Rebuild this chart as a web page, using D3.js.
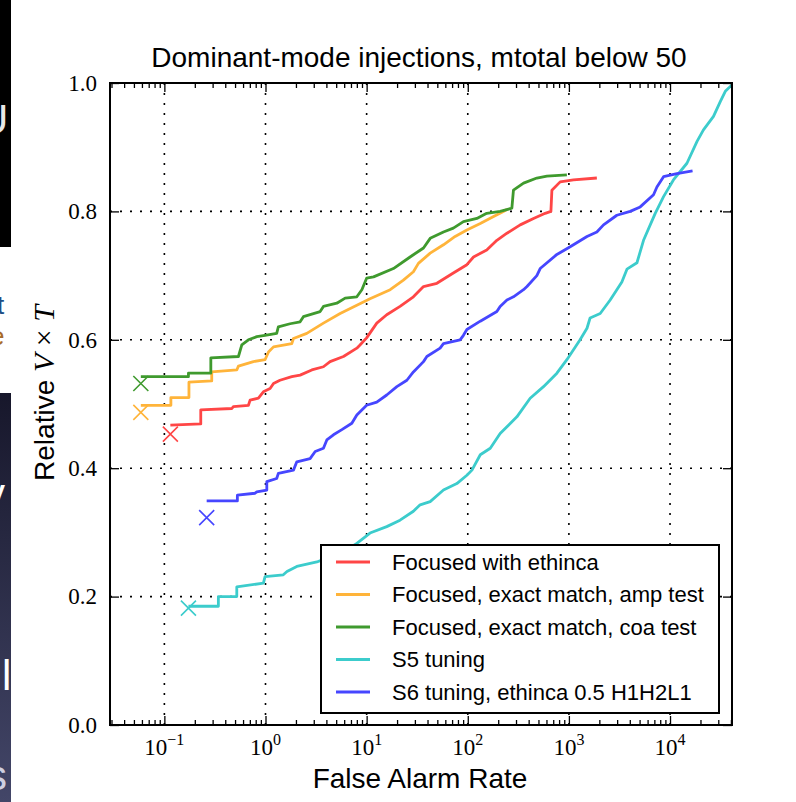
<!DOCTYPE html>
<html>
<head>
<meta charset="utf-8">
<script src="https://cdnjs.cloudflare.com/ajax/libs/d3/7.8.5/d3.min.js"></script>
<style>
body { margin: 0; background: #ffffff; }
</style>
</head>
<body>
<div id="chart"></div>
<script>
// series as [false alarm rate, relative VT]
var seriesNames = ["Focused with ethinca", "Focused, exact match, amp test",
  "Focused, exact match, coa test", "S5 tuning", "S6 tuning, ethinca 0.5 H1H2L1"];
var seriesColors = ["#ff4646", "#ffb43a", "#3f9a2e", "#3ccccc", "#4646ff"];

var redCurve = [[0.1146,0.467],[0.229,0.469],[0.229,0.491],[0.465,0.493],[0.481,0.496],[0.678,0.498],
  [0.704,0.506],[0.851,0.509],[0.953,0.519],[1.11,0.524],[1.2,0.532],[1.39,0.537],[1.82,0.5425],
  [2.2,0.545],[2.87,0.553],[3.74,0.558],[4.35,0.566],[5.9,0.574],[8.0,0.587],[8.6,0.592],[10.0,0.603],
  [12.6,0.626],[15.8,0.639],[21.4,0.652],[29,0.667],[36.5,0.683],[49.5,0.688],[72,0.704],[98,0.717],
  [114,0.729],[154,0.740],[194,0.755],[244,0.766],[330,0.779],[447,0.789],[583,0.797],[664,0.80],
  [679,0.833],[820,0.846],[1110,0.849],[1890,0.852]];

var orangeCurve = [[0.0585,0.498],[0.116,0.498],[0.116,0.510],[0.175,0.510],[0.175,0.534],[0.294,0.536],
  [0.294,0.550],[0.52,0.553],[0.54,0.559],[0.76,0.566],[0.99,0.569],[1.07,0.581],[1.2,0.589],
  [1.82,0.594],[1.89,0.602],[2.56,0.610],[3.74,0.626],[5.47,0.641],[8.0,0.654],[10.8,0.664],
  [17.1,0.678],[23.1,0.693],[29,0.706],[32.5,0.719],[42.5,0.735],[57.5,0.748],[75,0.761],[98,0.771],
  [133,0.781],[180,0.792],[225,0.80],[244,0.803]];

var greenCurve = [[0.0585,0.5425],[0.173,0.5425],[0.173,0.548],[0.288,0.548],[0.288,0.572],[0.54,0.574],
  [0.583,0.592],[0.678,0.600],[0.82,0.605],[0.99,0.607],[1.29,0.610],[1.34,0.620],[1.75,0.625],
  [2.2,0.628],[2.37,0.636],[3.47,0.644],[3.74,0.652],[5.07,0.657],[6.13,0.665],[8.0,0.667],
  [8.97,0.678],[10.0,0.696],[11.7,0.698],[18.4,0.711],[26.9,0.729],[36.5,0.743],[42.5,0.758],
  [57.5,0.768],[72,0.774],[90.6,0.784],[123,0.789],[154,0.797],[209,0.80],[273,0.805],[283,0.833],
  [356,0.844],[482,0.852],[606,0.855],[955,0.857]];

var cyanCurve = [[0.173,0.185],[0.342,0.185],[0.342,0.200],[0.52,0.200],[0.52,0.215],[0.953,0.221],
  [0.99,0.231],[1.5,0.234],[1.63,0.239],[2.04,0.247],[3.22,0.254],[4.04,0.260],[6.37,0.273],[8.0,0.283],
  [10.8,0.299],[15.8,0.309],[21.4,0.319],[29,0.333],[33.8,0.343],[42.5,0.348],[57.5,0.366],[78,0.376],
  [98,0.389],[110,0.397],[133,0.421],[167,0.431],[209,0.454],[306,0.480],[414,0.509],[561,0.527],
  [761,0.548],[955,0.569],[1290,0.600],[1510,0.618],[1620,0.634],[2040,0.641],[2560,0.662],
  [3340,0.690],[3750,0.710],[4710,0.720],[5470,0.755],[7140,0.797],[8630,0.823],[10800,0.849],
  [14700,0.875],[18500,0.909],[21400,0.927],[26900,0.948],[31400,0.971],[35200,0.987],[40900,0.997]];

var blueCurve = [[0.262,0.349],[0.527,0.349],[0.527,0.358],[0.789,0.361],[0.82,0.363],[1.03,0.366],
  [1.03,0.379],[1.29,0.384],[1.34,0.392],[1.89,0.397],[2.04,0.410],[2.76,0.415],[3.1,0.426],
  [3.74,0.431],[4.04,0.444],[4.7,0.452],[5.69,0.460],[7.14,0.470],[8.0,0.483],[10.0,0.498],
  [12.6,0.503],[15.8,0.514],[19.9,0.527],[25,0.537],[29,0.550],[36.5,0.566],[39.4,0.574],
  [53.3,0.587],[57.5,0.594],[84,0.600],[90.6,0.607],[98,0.616],[133,0.629],[194,0.644],[209,0.652],
  [244,0.662],[283,0.667],[356,0.678],[385,0.683],[482,0.700],[520,0.711],[761,0.733],[1030,0.745],
  [1510,0.761],[1890,0.768],[2200,0.779],[2980,0.794],[4040,0.80],[5070,0.807],[6870,0.826],
  [7420,0.838],[8630,0.854],[11700,0.859],[16700,0.863]];

// the X marker at the start of each curve
var startMarkers = [[0.1146,0.453],[0.0585,0.487],[0.0585,0.532],[0.173,0.182],[0.262,0.323]];

var xMajor = [0.1, 1, 10, 100, 1000, 10000];
var xMajorExp = ["\u22121", "0", "1", "2", "3", "4"];
var yTicks = [0, 0.2, 0.4, 0.6, 0.8, 1.0];

var curves = [redCurve, orangeCurve, greenCurve, cyanCurve, blueCurve];

function drawChart() {
  var svg = d3.select("#chart").append("svg").attr("width", 796).attr("height", 802);
  svg.append("rect").attr("width", 796).attr("height", 802).attr("fill", "#ffffff");

  drawSlideEdge(svg);

  var left = 110, right = 732, top = 83, bottom = 725;
  var x = d3.scaleLog().domain([0.029, 41000]).range([left, right]);
  var y = d3.scaleLinear().domain([0, 1]).range([bottom, top]);

  var xMinor = [];
  for (var e = -2; e <= 4; e++) {
    for (var m = 2; m <= 9; m++) {
      var v = m * Math.pow(10, e);
      if (v > 0.029 && v < 41000) xMinor.push(v);
    }
  }

  // dotted grid
  var grid = svg.append("g").attr("stroke", "#000").attr("stroke-width", 1.6)
    .attr("stroke-dasharray", "2,8");
  xMajor.forEach(function (v) {
    grid.append("line").attr("x1", x(v)).attr("x2", x(v)).attr("y1", bottom).attr("y2", top);
  });
  [0.2, 0.4, 0.6, 0.8].forEach(function (v) {
    grid.append("line").attr("x1", left).attr("x2", right).attr("y1", y(v)).attr("y2", y(v));
  });

  // curves
  svg.append("clipPath").attr("id", "plotclip").append("rect")
    .attr("x", left).attr("y", top).attr("width", right - left).attr("height", bottom - top);
  var line = d3.line().x(function (d) { return x(d[0]); }).y(function (d) { return y(d[1]); });
  var plot = svg.append("g").attr("clip-path", "url(#plotclip)");
  curves.forEach(function (c, i) {
    plot.append("path").attr("d", line(c)).attr("fill", "none")
      .attr("stroke", seriesColors[i]).attr("stroke-width", 2.8).attr("stroke-linejoin", "round");
  });
  startMarkers.forEach(function (p, i) {
    var cx = x(p[0]), cy = y(p[1]), r = 7.5;
    svg.append("path")
      .attr("d", "M" + (cx - r) + "," + (cy - r) + "L" + (cx + r) + "," + (cy + r) +
        "M" + (cx - r) + "," + (cy + r) + "L" + (cx + r) + "," + (cy - r))
      .attr("stroke", seriesColors[i]).attr("stroke-width", 1.6);
  });

  // ticks, pointing inward on all four sides
  svg.append("g").attr("transform", "translate(0," + bottom + ")")
    .call(d3.axisBottom(x).tickValues(xMajor).tickSizeInner(-9).tickSizeOuter(0).tickFormat(""));
  svg.append("g").attr("transform", "translate(0," + bottom + ")")
    .call(d3.axisBottom(x).tickValues(xMinor).tickSizeInner(-5).tickSizeOuter(0).tickFormat(""));
  svg.append("g").attr("transform", "translate(0," + top + ")")
    .call(d3.axisTop(x).tickValues(xMajor).tickSizeInner(-9).tickSizeOuter(0).tickFormat(""));
  svg.append("g").attr("transform", "translate(0," + top + ")")
    .call(d3.axisTop(x).tickValues(xMinor).tickSizeInner(-5).tickSizeOuter(0).tickFormat(""));
  var yl = svg.append("g").attr("transform", "translate(" + left + ",0)")
    .call(d3.axisLeft(y).tickValues(yTicks).tickSizeInner(-9).tickSizeOuter(0).tickPadding(13)
      .tickFormat(d3.format(".1f")));
  yl.selectAll("text").attr("font-family", "Liberation Serif, serif").attr("font-size", 23)
    .attr("fill", "#000");
  svg.append("g").attr("transform", "translate(" + right + ",0)")
    .call(d3.axisRight(y).tickValues(yTicks).tickSizeInner(-9).tickSizeOuter(0).tickFormat(""));
  svg.selectAll(".domain").remove();
  svg.selectAll(".tick line").attr("stroke", "#000").attr("stroke-width", 1.3);

  // frame
  svg.append("rect").attr("x", left).attr("y", top).attr("width", right - left)
    .attr("height", bottom - top).attr("fill", "none").attr("stroke", "#000").attr("stroke-width", 2);

  // x tick labels as 10^n
  xMajor.forEach(function (v, i) {
    var t = svg.append("text").attr("x", x(v)).attr("y", 755).attr("text-anchor", "middle")
      .attr("font-family", "Liberation Serif, serif").attr("font-size", 23).attr("fill", "#000");
    t.append("tspan").text("10");
    t.append("tspan").attr("dy", -10).attr("font-size", 16).text(xMajorExp[i]);
  });

  // titles
  svg.append("text").attr("x", 419).attr("y", 67).attr("text-anchor", "middle")
    .attr("font-family", "Liberation Sans, Arial, sans-serif").attr("font-size", 28)
    .text("Dominant-mode injections, mtotal below 50");
  svg.append("text").attr("x", 420).attr("y", 788).attr("text-anchor", "middle")
    .attr("font-family", "Liberation Sans, Arial, sans-serif").attr("font-size", 28)
    .text("False Alarm Rate");
  var ylab = svg.append("text").attr("transform", "translate(54,393) rotate(-90)")
    .attr("text-anchor", "middle").attr("font-family", "Liberation Sans, Arial, sans-serif")
    .attr("font-size", 28);
  ylab.append("tspan").text("Relative ");
  ylab.append("tspan").attr("font-family", "Liberation Serif, serif").attr("font-style", "italic")
    .attr("font-size", 30).text("V");
  ylab.append("tspan").attr("font-family", "Liberation Serif, serif").attr("font-size", 30).text(" \u00d7 ");
  ylab.append("tspan").attr("font-family", "Liberation Serif, serif").attr("font-style", "italic")
    .attr("font-size", 30).text("T");

  // legend
  var lg = svg.append("g");
  lg.append("rect").attr("x", 321).attr("y", 545).attr("width", 398).attr("height", 168)
    .attr("fill", "#fff").attr("stroke", "#000").attr("stroke-width", 2);
  seriesNames.forEach(function (name, i) {
    var ly = 562 + i * 32.5;
    lg.append("line").attr("x1", 336).attr("x2", 370).attr("y1", ly).attr("y2", ly)
      .attr("stroke", seriesColors[i]).attr("stroke-width", 2.8);
    lg.append("text").attr("x", 392).attr("y", ly).attr("dy", "0.35em")
      .attr("font-family", "Liberation Sans, Arial, sans-serif").attr("font-size", 22).text(name);
  });
}

// bit of the presentation slide showing along the left edge
function drawSlideEdge(svg) {
  var defs = svg.append("defs");
  var grad = defs.append("linearGradient").attr("id", "slidegrad").attr("x1", 0).attr("x2", 0)
    .attr("y1", 0).attr("y2", 1);
  grad.append("stop").attr("offset", "0").attr("stop-color", "#17172b");
  grad.append("stop").attr("offset", "1").attr("stop-color", "#434668");
  defs.append("clipPath").attr("id", "edgeclip").append("rect")
    .attr("x", 0).attr("y", 0).attr("width", 11).attr("height", 802);

  var g = svg.append("g").attr("clip-path", "url(#edgeclip)");
  g.append("rect").attr("x", 0).attr("y", 0).attr("width", 11).attr("height", 247).attr("fill", "#000");
  g.append("rect").attr("x", 0).attr("y", 393).attr("width", 11).attr("height", 409)
    .attr("fill", "url(#slidegrad)");
  var bits = [["U", -22, 134, 42, "#e8e8e8"], ["t", -3, 314, 26, "#1f4f86"],
    ["e", -10, 345, 26, "#a86a2a"], ["y", -16, 508, 42, "#ffffff"], ["l", 2, 690, 42, "#ffffff"],
    ["s", -14, 790, 42, "#d0d0e0"]];
  bits.forEach(function (b) {
    g.append("text").attr("x", b[1]).attr("y", b[2]).attr("fill", b[4])
      .attr("font-family", "Liberation Sans, Arial, sans-serif").attr("font-size", b[3]).text(b[0]);
  });
}

drawChart();
</script>
</body>
</html>
